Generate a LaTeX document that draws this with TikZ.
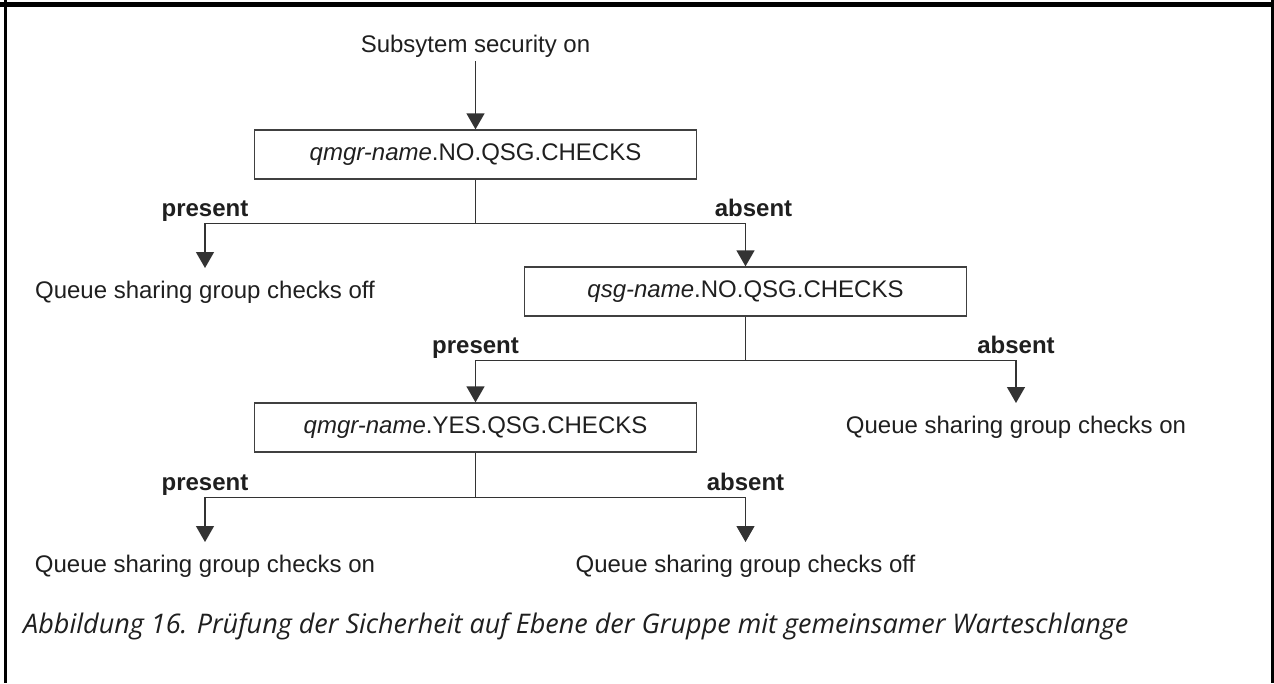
\documentclass[tikz,border=0pt]{standalone}
\usepackage{fontspec}
\setmainfont{Liberation Sans}
\newfontfamily\capfont{Open Sans}
\usepackage{tikz}
\usetikzlibrary{arrows.meta, positioning}

\begin{document}
\begin{tikzpicture}[
    x=1pt, y=1pt,
    every node/.style={font=\fontsize{24}{28}\selectfont, text=black!88},
    checkbox/.style={rectangle, draw=black!75, line width=1.3pt, minimum width=442pt,
                  minimum height=49pt, inner sep=0pt, align=center},
    result/.style={inner xsep=0pt, inner ysep=13pt, anchor=north},
    branch/.style={font=\fontsize{24}{28}\selectfont\bfseries, inner sep=1.5pt,
                  text height=17pt, text depth=5pt},
    arr/.style={-{Triangle[width=18pt, length=16pt]}, line width=1.3pt, color=black!80},
    plain/.style={line width=1.3pt, color=black!80},
]
\useasboundingbox (0,0) rectangle (1274,-683);

% frame
\fill[black] (0,-1.5) rectangle (1274,-6.5);
\fill[black] (4,0) rectangle (7,-683);
\fill[black] (1271,0) rectangle (1274,-683);

\node[inner sep=4pt, anchor=base] (start) at (475.5,-52) {Subsytem security on};

\node[checkbox] (nomgr) at (475.5,-154.5) {\textit{qmgr-name}.NO.QSG.CHECKS};
\coordinate[below=44pt of nomgr] (fork1);

\node[result] (qoffA) at (205,-268) {Queue sharing group checks off};
\node[checkbox] (nosg) at (745.5,-291.5) {\textit{qsg-name}.NO.QSG.CHECKS};
\coordinate[below=44pt of nosg] (fork2);

\node[checkbox] (yesmgr) at (475.5,-427.5) {\textit{qmgr-name}.YES.QSG.CHECKS};
\node[result] (qonA) at (1016,-403) {Queue sharing group checks on};
\coordinate[below=45pt of yesmgr] (fork3);

\node[result] (qonB) at (205,-542) {Queue sharing group checks on};
\node[result] (qoffB) at (745.5,-542) {Queue sharing group checks off};

\draw[arr] (start) -- (nomgr);

\draw[plain] (nomgr) -- (fork1);
\draw[arr] (fork1) -| node[branch, pos=0.5, above] {present} (qoffA);
\draw[arr] (fork1) -| node[branch, pos=0.5, above, xshift=8pt] {absent} (nosg);

\draw[plain] (nosg) -- (fork2);
\draw[arr] (fork2) -| node[branch, pos=0.5, above] {present} (yesmgr);
\draw[arr] (fork2) -| node[branch, pos=0.5, above] {absent} (qonA);

\draw[plain] (yesmgr) -- (fork3);
\draw[arr] (fork3) -| node[branch, pos=0.5, above] {present} (qonB);
\draw[arr] (fork3) -| node[branch, pos=0.5, above] {absent} (qoffB);

\node[anchor=base west, inner sep=0pt, font=\capfont\itshape\fontsize{27}{31}\selectfont] (caption)
    at (23,-633) {Abbildung 16. Prüfung der Sicherheit auf Ebene der Gruppe mit gemeinsamer Warteschlange};

\end{tikzpicture}
\end{document}
